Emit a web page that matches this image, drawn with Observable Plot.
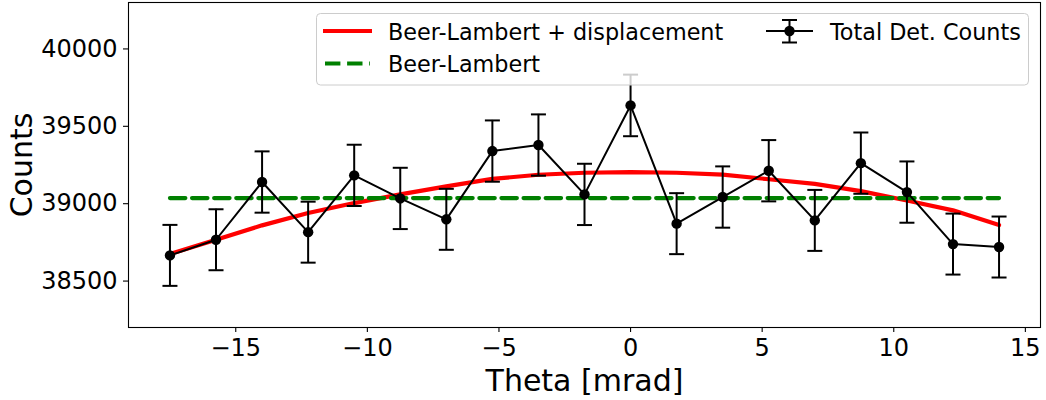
<!DOCTYPE html>
<html>
<head>
<meta charset="utf-8">
<script src="https://cdn.jsdelivr.net/npm/d3@7"></script>
<script src="https://cdn.jsdelivr.net/npm/@observablehq/plot@0.6"></script>
<style>
  html, body { margin: 0; padding: 0; background: white; }
  #chart { width: 1046px; height: 400px; }
</style>
</head>
<body>
<div id="chart"></div>
<script>
// ---- data ----
const thetas = [-17.5, -15.75, -14, -12.25, -10.5, -8.75, -7, -5.25, -3.5, -1.75, 0, 1.75, 3.5, 5.25, 7, 8.75, 10.5, 12.25, 14];
const counts = [38666, 38767, 39140, 38816, 39183, 39034, 38899, 39340, 39379, 39060, 39635, 38871, 39043, 39213, 38892, 39262, 39075, 38739, 38720];
const errors = [197, 197, 198, 197, 198, 198, 197, 198, 198, 198, 199, 197, 198, 198, 197, 198, 198, 197, 197];
const fitDisplacement = [38675, 38767, 38860, 38940, 39004, 39060, 39112, 39160, 39187, 39200, 39204, 39200, 39188, 39158, 39128, 39081, 39021, 38957, 38862];
const beerLambert = 39036;
const xTicks = [-15, -10, -5, 0, 5, 10, 15];
const yTicks = [38500, 39000, 39500, 40000];
const legendLabels = ["Beer-Lambert + displacement", "Beer-Lambert", "Total Det. Counts"];
const xLabel = "Theta [mrad]";
const yLabel = "Counts";

const rows = thetas.map((t, i) => ({theta: t, c: counts[i], e: errors[i], fit: fitDisplacement[i]}));

const capSymbol = {
  draw(ctx) { ctx.moveTo(-7.5, 0); ctx.lineTo(7.5, 0); }
};

const fmt = d3.format("d");

const chart = Plot.plot({
  width: 1046,
  height: 400,
  marginLeft: 128,
  marginRight: 6,
  marginTop: 2,
  marginBottom: 73,
  style: {fontFamily: "DejaVu Sans", background: "white", color: "black"},
  x: {domain: [-19.075, 15.575]},
  y: {domain: [38200, 40300]},
  marks: [
    Plot.axisX({ticks: xTicks, tickSize: 5, tickPadding: 6, fontSize: 24, label: null, tickFormat: fmt, strokeWidth: 1.1}),
    Plot.axisY({ticks: yTicks, tickSize: 5, tickPadding: 6, fontSize: 24, label: null, tickFormat: fmt, strokeWidth: 1.1}),
    Plot.text([xLabel], {frameAnchor: "bottom", textAnchor: "middle", lineAnchor: "bottom", dy: 63, fontSize: 30, text: d => d}),
    Plot.text([yLabel], {frameAnchor: "left", textAnchor: "middle", lineAnchor: "bottom", rotate: -90, dx: -97, fontSize: 30, text: d => d}),
    Plot.line(rows, {x: "theta", y: "fit", stroke: "red", strokeWidth: 4.2}),
    Plot.line(rows, {x: "theta", y: () => beerLambert, stroke: "green", strokeWidth: 4.2, strokeDasharray: "15.4,6.7"}),
    Plot.ruleX(rows, {x: "theta", y1: d => d.c - d.e, y2: d => d.c + d.e, stroke: "black", strokeWidth: 2}),
    Plot.dot(rows, {x: "theta", y: d => d.c - d.e, symbol: capSymbol, r: 5, stroke: "black", strokeWidth: 2}),
    Plot.dot(rows, {x: "theta", y: d => d.c + d.e, symbol: capSymbol, r: 5, stroke: "black", strokeWidth: 2}),
    Plot.line(rows, {x: "theta", y: "c", stroke: "black", strokeWidth: 2}),
    Plot.dot(rows, {x: "theta", y: "c", r: 5.2, fill: "black", stroke: "none"}),
    Plot.frame({stroke: "black", strokeWidth: 1.1})
  ]
});

document.getElementById("chart").appendChild(chart);

// ---- legend drawn inside the SVG ----
const svg = d3.select(chart);
const lg = svg.append("g").attr("font-family", "DejaVu Sans").attr("font-size", 22.3).attr("text-anchor", "start");
lg.append("rect")
  .attr("x", 316.5).attr("y", 13.5).attr("width", 712).attr("height", 71.5)
  .attr("rx", 4).attr("fill", "white").attr("fill-opacity", 0.8)
  .attr("stroke", "#cccccc").attr("stroke-width", 1);
// entry 1: red solid
lg.append("line").attr("x1", 323).attr("x2", 372).attr("y1", 31).attr("y2", 31)
  .attr("stroke", "red").attr("stroke-width", 4.2);
lg.append("text").attr("x", 388).attr("y", 39.5).text(legendLabels[0]);
// entry 2: green dashed
lg.append("line").attr("x1", 325).attr("x2", 370).attr("y1", 63.5).attr("y2", 63.5)
  .attr("stroke", "green").attr("stroke-width", 4.2).attr("stroke-dasharray", "15.4,6.7");
lg.append("text").attr("x", 388).attr("y", 71.5).text(legendLabels[1]);
// entry 3: errorbar
lg.append("line").attr("x1", 766).attr("x2", 813).attr("y1", 31).attr("y2", 31)
  .attr("stroke", "black").attr("stroke-width", 2);
lg.append("line").attr("x1", 789.5).attr("x2", 789.5).attr("y1", 20).attr("y2", 42.5)
  .attr("stroke", "black").attr("stroke-width", 2);
lg.append("line").attr("x1", 782).attr("x2", 797).attr("y1", 20).attr("y2", 20)
  .attr("stroke", "black").attr("stroke-width", 2);
lg.append("line").attr("x1", 782).attr("x2", 797).attr("y1", 42.5).attr("y2", 42.5)
  .attr("stroke", "black").attr("stroke-width", 2);
lg.append("circle").attr("cx", 789.5).attr("cy", 31).attr("r", 5.2).attr("fill", "black");
lg.append("text").attr("x", 830).attr("y", 39.5).text(legendLabels[2]);
</script>
</body>
</html>
